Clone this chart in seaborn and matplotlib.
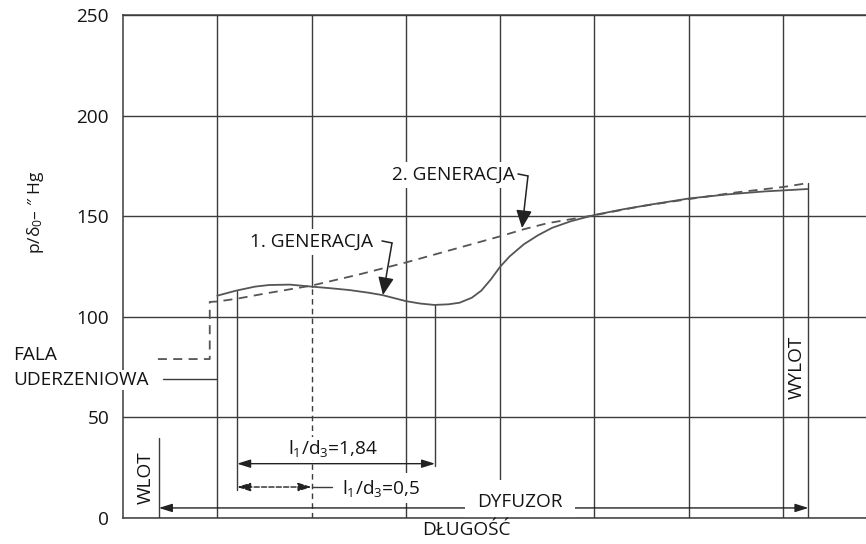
import matplotlib
matplotlib.use("Agg")
import matplotlib.pyplot as plt
import seaborn as sns
import pandas as pd

# ---------------- data ----------------
# solid curve (1. GENERACJA)
gen1_x = [1.0, 1.2, 1.4, 1.55, 1.77, 2.0, 2.2, 2.4, 2.6, 2.75, 3.0, 3.15, 3.3,
          3.45, 3.57, 3.7, 3.8, 3.9, 4.0, 4.1, 4.25, 4.4, 4.55, 4.75, 5.0, 5.3,
          5.6, 6.0, 6.4, 6.8, 7.26]
gen1_p = [110.5, 113.0, 115.0, 115.8, 116.0, 115.0, 114.2, 113.3, 112.0, 110.8,
          107.8, 106.6, 105.9, 106.2, 107.0, 109.5, 113.0, 118.5, 124.9, 130.0,
          136.0, 140.5, 144.2, 147.5, 150.6, 153.4, 155.8, 158.8, 160.8, 162.3,
          163.5]
# dashed curve (2. GENERACJA), incl. shock-wave step
gen2_x = [0.37, 0.92, 0.92, 1.0, 1.21, 1.5, 2.0, 2.5, 3.0, 3.5, 4.0, 4.25, 4.5,
          5.0, 5.5, 6.0, 6.5, 7.0, 7.27]
gen2_p = [79.0, 79.0, 107.4, 107.6, 109.0, 111.5, 115.5, 121.0, 127.0, 133.5,
          140.0, 143.5, 146.5, 150.5, 155.0, 158.5, 161.8, 164.5, 166.5]

y_ticks = [0, 50, 100, 150, 200, 250]
x_grid = [1, 3, 4, 5, 6, 7]

# key stations along the length
x_wlot, x_shock, x_a, x_mid, x_b, x_wylot = 0.38, 1.0, 1.21, 2.0, 3.31, 7.27
p_mid, p_a, p_b, p_wylot = 115.0, 113.0, 105.9, 166.5

labels = {
    "gen1": "1. GENERACJA",
    "gen2": "2. GENERACJA",
    "fala": "FALA",
    "uderz": "UDERZENIOWA",
    "wlot": "WLOT",
    "wylot": "WYLOT",
    "l184": r"l$_1$/d$_3$=1,84",
    "l05": r"l$_1$/d$_3$=0,5",
    "dyf": "DYFUZOR",
    "xlabel": "DŁUGOŚĆ",
    "ylabel": r"p/δ$_0$– ″ Hg",
}

# ---------------- style ----------------
sns.set_theme(style="white")
plt.rcParams["font.family"] = ["Open Sans", "DejaVu Sans"]
plt.rcParams["mathtext.fontset"] = "custom"
plt.rcParams["mathtext.rm"] = "Open Sans"
plt.rcParams["mathtext.it"] = "Open Sans:italic"
plt.rcParams["mathtext.default"] = "regular"

TXT = "#141414"
GRID = "#3c3c3c"
CURVE = "#555555"
FS = 13.7

fig = plt.figure(figsize=(8.66, 5.44), dpi=100)
ax = fig.add_axes([123 / 866, 26 / 544, 743 / 866, 503 / 544])
ax.set_xlim(0, 743 / 94.29)
ax.set_ylim(0, 250)

for s in ["left", "bottom", "top"]:
    ax.spines[s].set_color(GRID)
    ax.spines[s].set_linewidth(1.1)
ax.spines["right"].set_visible(False)
ax.spines["bottom"].set_zorder(7)

ax.set_xticks(x_grid)
ax.set_yticks(y_ticks)
ax.set_xticklabels([])
ax.set_yticklabels([str(v) for v in y_ticks], fontsize=FS, color=TXT)
ax.tick_params(length=0, pad=10)
ax.set_axisbelow(True)
ax.grid(True, color=GRID, linewidth=1.0)

# curves
df1 = pd.DataFrame({"x": gen1_x, "p": gen1_p})
df2 = pd.DataFrame({"x": gen2_x, "p": gen2_p})
sns.lineplot(data=df1, x="x", y="p", ax=ax, color=CURVE, lw=1.3, sort=False,
             estimator=None, zorder=2)
sns.lineplot(data=df2, x="x", y="p", ax=ax, color=CURVE, lw=1.3, sort=False,
             estimator=None, zorder=2, linestyle=(0, (5, 3.5)))
ax.set_xlabel("")
ax.set_ylabel("")

# vertical station lines
ax.plot([x_mid, x_mid], [p_mid, 250], color=GRID, lw=1.0, zorder=1)
ax.plot([x_mid, x_mid], [0, p_mid], color=GRID, lw=1.0, zorder=1,
        linestyle=(0, (4, 3)))
ax.plot([x_a, x_a], [14, p_a], color=GRID, lw=1.0, zorder=1)
ax.plot([x_b, x_b], [26, p_b], color=GRID, lw=1.0, zorder=1)
ax.plot([x_wlot, x_wlot], [0, 40], color=GRID, lw=1.0, zorder=1)
ax.plot([x_wylot, x_wylot], [0, p_wylot], color=GRID, lw=1.0, zorder=1)
ax.plot([0.424, x_shock], [69, 69], color=GRID, lw=1.0, zorder=1,
        clip_on=False)

# dimension arrows
def dim_arrow(x1, x2, y, ls="-"):
    ax.annotate("", xy=(x2, y), xytext=(x1, y),
                arrowprops=dict(arrowstyle="<|-|>,head_length=0.8,head_width=0.25",
                                color="#222222", lw=1.0, shrinkA=0, shrinkB=0,
                                mutation_scale=10, linestyle=ls),
                zorder=5)

dim_arrow(x_a, x_b, 27)
dim_arrow(x_a, x_mid, 15.4, ls="--")
ax.plot([x_mid, 2.22], [15.4, 15.4], color=GRID, lw=1.0, zorder=5)
dim_arrow(x_wlot, x_wylot, 5)

# generation labels with hooked arrows
box = dict(facecolor="white", edgecolor="none", pad=3)
ax.text(1.994, 137.2, labels["gen1"], fontsize=FS, color=TXT, ha="center",
        va="center", bbox=box, zorder=4)
ax.plot([2.747, 2.853], [137.7, 136.7], color="#222222", lw=1.1, zorder=5)
ax.annotate("", xy=(2.757, 110.8), xytext=(2.853, 136.7),
            arrowprops=dict(arrowstyle="-|>,head_length=0.9,head_width=0.4",
                            color="#222222", lw=1.1, shrinkA=0, shrinkB=0,
                            mutation_scale=12), zorder=5)

ax.text(3.5, 170.5, labels["gen2"], fontsize=FS, color=TXT, ha="center",
        va="center", bbox=box, zorder=4)
ax.plot([4.189, 4.295], [171, 170], color="#222222", lw=1.1, zorder=5)
ax.annotate("", xy=(4.232, 144.1), xytext=(4.295, 170),
            arrowprops=dict(arrowstyle="-|>,head_length=0.9,head_width=0.4",
                            color="#222222", lw=1.1, shrinkA=0, shrinkB=0,
                            mutation_scale=12), zorder=5)

# other texts
ax.text(-1.167, 81, labels["fala"], fontsize=FS, color=TXT, ha="left",
        va="center")
ax.text(-1.167, 68.6, labels["uderz"], fontsize=FS, color=TXT, ha="left",
        va="center", bbox=dict(facecolor="white", edgecolor="none", pad=1),
        zorder=7.5)
ax.text(0.244, 19.9, labels["wlot"], fontsize=FS, color=TXT, ha="center",
        va="center", rotation=90)
ax.text(7.148, 75, labels["wylot"], fontsize=FS, color=TXT, ha="center",
        va="center", rotation=90)
ax.text(2.227, 34.5, labels["l184"], fontsize=FS, color=TXT, ha="center",
        va="center", bbox=dict(facecolor="white", edgecolor="none", pad=1),
        zorder=4)
ax.text(2.736, 14.9, labels["l05"], fontsize=FS, color=TXT, ha="center",
        va="center", bbox=box, zorder=4)
ax.text(4.21, 8, labels["dyf"], fontsize=FS, color=TXT, ha="center",
        va="center", bbox=dict(facecolor="white", edgecolor="none", pad=9),
        zorder=6)
ax.text(3.64, -6, labels["xlabel"], fontsize=FS, color=TXT, ha="center",
        va="center", zorder=8)
fig.text(35 / 866, 1 - 212 / 544, labels["ylabel"], fontsize=12.5, color=TXT,
         ha="center", va="center", rotation=90)

fig.savefig("out.png", dpi=100, facecolor="white")
